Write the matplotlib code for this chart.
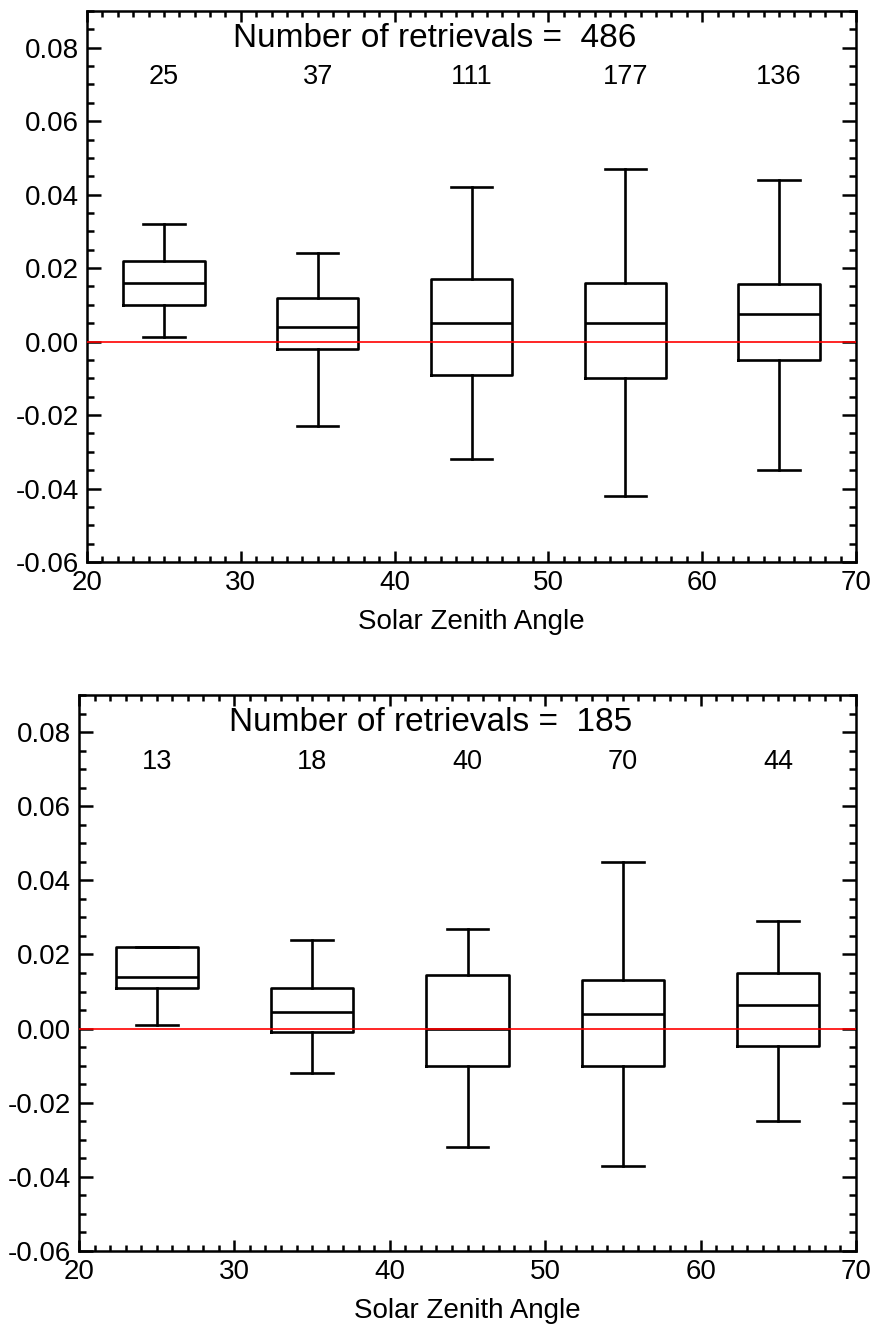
import numpy as np
import matplotlib
matplotlib.use("Agg")
import matplotlib.pyplot as plt
from matplotlib.ticker import MultipleLocator

plt.rcParams["font.family"] = ["Liberation Sans", "DejaVu Sans"]
plt.rcParams["axes.unicode_minus"] = False

# datos
sza = [25, 35, 45, 55, 65]

counts_top = [25, 37, 111, 177, 136]
top_whislo = [0.0012, -0.023, -0.032, -0.042, -0.035]
top_q1 = [0.010, -0.002, -0.009, -0.010, -0.005]
top_med = [0.016, 0.004, 0.005, 0.005, 0.0076]
top_q3 = [0.022, 0.012, 0.017, 0.016, 0.0157]
top_whishi = [0.032, 0.024, 0.042, 0.047, 0.044]

counts_bot = [13, 18, 40, 70, 44]
bot_whislo = [0.001, -0.012, -0.032, -0.037, -0.025]
bot_q1 = [0.011, -0.001, -0.010, -0.010, -0.0046]
bot_med = [0.014, 0.0046, 0.0, 0.0039, 0.0063]
bot_q3 = [0.022, 0.011, 0.0144, 0.013, 0.015]
bot_whishi = [0.022, 0.024, 0.027, 0.045, 0.029]

yticks = [-0.06, -0.04, -0.02, 0.00, 0.02, 0.04, 0.06, 0.08]

fig = plt.figure(figsize=(8.74, 13.29), dpi=100)
ax1 = fig.add_axes([87 / 874, 1 - 562 / 1329, 769 / 874, 551 / 1329])
ax2 = fig.add_axes([79 / 874, 1 - 1251 / 1329, 777 / 874, 556 / 1329])


def panel(ax, counts, wlo, q1, med, q3, whi):
    stats = []
    for i in range(len(sza)):
        stats.append({"med": med[i], "q1": q1[i], "q3": q3[i],
                      "whislo": wlo[i], "whishi": whi[i], "fliers": []})
    lw = 1.9
    ax.bxp(stats, positions=sza, widths=5.3, capwidths=2.7, showfliers=False,
           boxprops=dict(color="black", linewidth=lw),
           medianprops=dict(color="black", linewidth=lw),
           whiskerprops=dict(color="black", linewidth=lw),
           capprops=dict(color="black", linewidth=lw))
    ax.axhline(0.0, color="red", linewidth=1.2, zorder=5)

    ax.set_xlim(20, 70)
    ax.set_ylim(-0.06, 0.09)
    ax.set_xticks([20, 30, 40, 50, 60, 70])
    ax.set_xticklabels(["20", "30", "40", "50", "60", "70"])
    ax.xaxis.set_minor_locator(MultipleLocator(1))
    ax.set_yticks(yticks)
    ax.set_yticklabels(["%.2f" % v for v in yticks])
    ax.yaxis.set_minor_locator(MultipleLocator(0.005))

    ax.tick_params(direction="in", top=True, right=True, labelsize=20, width=1.8, color="black")
    ax.tick_params(axis="y", which="major", length=10, pad=6)
    ax.tick_params(axis="y", which="minor", length=5, width=1.8, direction="in", right=True)
    ax.tick_params(axis="x", which="major", length=8, pad=6)
    ax.tick_params(axis="x", which="minor", length=4, width=1.8, direction="in", top=True)
    for s in ax.spines.values():
        s.set_linewidth(1.8)

    ax.set_xlabel("Solar Zenith Angle", fontsize=20, labelpad=9)

    ax.text(42.6, 0.0803, "Number of retrievals =  %d" % sum(counts),
            ha="center", va="baseline", fontsize=24)
    for x, n in zip(sza, counts):
        ax.text(x, 0.070, str(n), ha="center", va="baseline", fontsize=19.5)


panel(ax1, counts_top, top_whislo, top_q1, top_med, top_q3, top_whishi)
panel(ax2, counts_bot, bot_whislo, bot_q1, bot_med, bot_q3, bot_whishi)

fig.savefig("out.png", dpi=100)
